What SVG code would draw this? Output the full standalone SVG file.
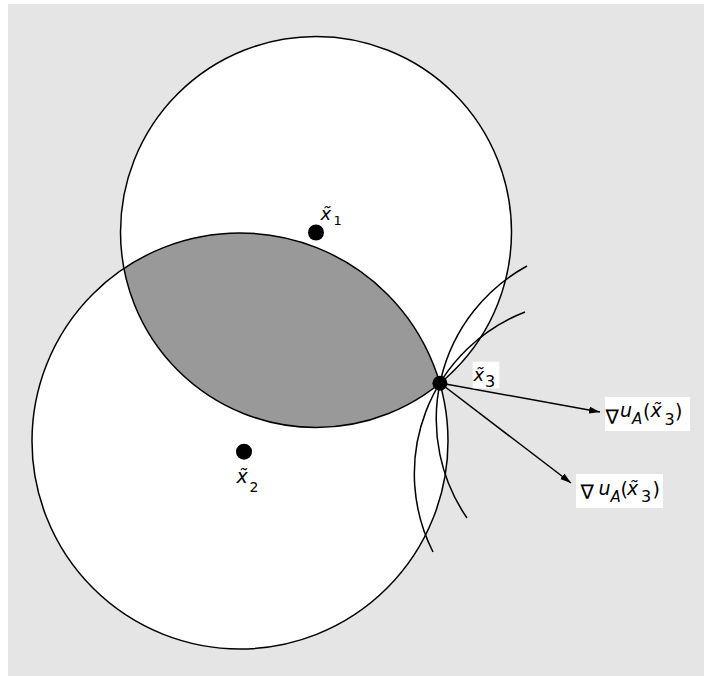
<svg xmlns="http://www.w3.org/2000/svg" width="704" height="676" viewBox="0 0 704 676">
  <defs>
    <marker id="ah" markerUnits="userSpaceOnUse" markerWidth="12" markerHeight="8" refX="11" refY="3.5" orient="auto">
      <path d="M0,0 L11,3.5 L0,7 z" fill="#000"/>
    </marker>
  </defs>
  <style>
    .edge { fill: none; stroke: #000; stroke-width: 1.5; }
    .disk { fill: #fff; stroke: none; }
    .lens { fill: #999; stroke: none; }
    .arrow { fill: none; stroke: #000; stroke-width: 1.5; marker-end: url(#ah); }
    .dot { fill: #000; }
    .t { font-family: "DejaVu Sans", "Open Sans", sans-serif; fill: #000; }
    .i { font-style: italic; }
    .box { fill: #fff; }
  </style>
  <rect id="background" x="8" y="4" width="696" height="672" fill="#e5e5e5"/>
  <g id="disks">
    <circle class="disk" cx="316" cy="232" r="195.5"/>
    <circle class="disk" cx="240" cy="441" r="208"/>
    <path id="lens" class="lens" d="M123.9,268.4 A195.5,195.5 0 0 0 439.9,383.2 A208,208 0 0 0 123.9,268.4 Z"/>
  </g>
  <g id="circle1"><circle class="edge" cx="316" cy="232" r="195.5"/></g>
  <g id="circle2"><circle class="edge" cx="240" cy="441" r="208"/></g>
  <g id="level-curves">
    <path class="edge" d="M527,266 A174.5,174.5 0 0 0 467,518"/>
    <path class="edge" d="M525,312 A173.5,173.5 0 0 0 433,552"/>
  </g>
  <g id="connectors">
    <line class="arrow" x1="440" y1="383" x2="600" y2="412"/>
    <line class="arrow" x1="440" y1="383" x2="571" y2="483"/>
  </g>
  <g id="x1">
    <circle class="dot" cx="316" cy="232.5" r="8"/>
    <text class="t" font-size="18"><tspan class="i" x="320.5" y="220">x̃</tspan><tspan x="333.5" y="224.5" font-size="13">1</tspan></text>
  </g>
  <g id="x2">
    <circle class="dot" cx="244" cy="451.7" r="8"/>
    <text class="t" font-size="19"><tspan class="i" x="236.5" y="483.3">x̃</tspan><tspan x="249.5" y="491.7" font-size="14">2</tspan></text>
  </g>
  <g id="x3">
    <circle class="dot" cx="439.9" cy="383.2" r="7.5"/>
    <rect class="box" x="472.7" y="361.7" width="26.6" height="26.6"/>
    <text class="t" font-size="18"><tspan class="i" x="473.5" y="381">x̃</tspan><tspan x="485" y="386.7" font-size="16">3</tspan></text>
  </g>
  <g id="grad1">
    <rect class="box" x="605" y="397" width="85" height="34"/>
    <text class="t" font-size="19"><tspan x="605.5" y="424" font-size="20">∇</tspan><tspan class="i" x="620" y="417">u</tspan><tspan class="i" x="632" y="423.5" font-size="15">A</tspan><tspan x="643" y="418">(</tspan><tspan class="i" x="650.5" y="417">x̃</tspan><tspan x="664.5" y="425" font-size="16">3</tspan><tspan x="675" y="418">)</tspan></text>
  </g>
  <g id="grad2">
    <rect class="box" x="576" y="474" width="87" height="34"/>
    <text class="t" font-size="19"><tspan x="580.5" y="498.5" font-size="20">∇</tspan><tspan class="i" x="598.5" y="495">u</tspan><tspan class="i" x="610.5" y="501.5" font-size="15">A</tspan><tspan x="620.5" y="496">(</tspan><tspan class="i" x="627" y="495">x̃</tspan><tspan x="641" y="502" font-size="16">3</tspan><tspan x="652.5" y="496">)</tspan></text>
  </g>
</svg>
